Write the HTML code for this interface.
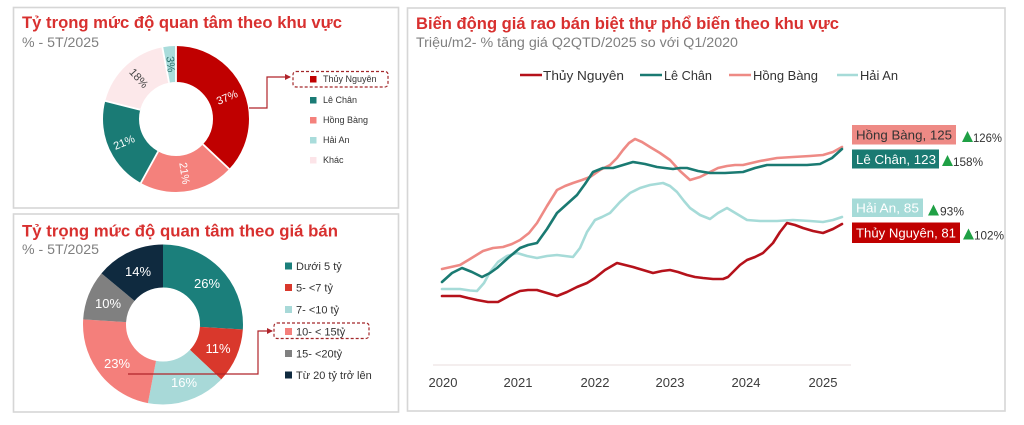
<!DOCTYPE html>
<html><head><meta charset="utf-8">
<style>
html,body{margin:0;padding:0;background:#fff;width:1024px;height:425px;overflow:hidden}
svg{display:block}
text{font-family:"Liberation Sans","Noto Sans CJK SC",sans-serif}
</style></head>
<body>
<svg width="1024" height="425" viewBox="0 0 1024 425" xmlns="http://www.w3.org/2000/svg">
<defs>
<marker id="ah" markerWidth="6" markerHeight="6" refX="5" refY="3" orient="auto" markerUnits="userSpaceOnUse">
<path d="M0,0 L6,3 L0,6 z" fill="#b0242a"/>
</marker>
</defs>
<rect x="0" y="0" width="1024" height="425" fill="#fff"/>
<!-- panels -->
<rect x="13.5" y="7.5" width="385" height="200.5" fill="#fff" stroke="#d6d6d6" stroke-width="1.6"/>
<rect x="13.5" y="214" width="385" height="198" fill="#fff" stroke="#d6d6d6" stroke-width="1.6"/>
<rect x="407.5" y="8" width="597.5" height="403" fill="#fff" stroke="#d6d6d6" stroke-width="1.6"/>

<!-- ===== Top-left ===== -->
<text x="22" y="28" font-size="17" font-weight="bold" fill="#d8302f" textLength="320" lengthAdjust="spacingAndGlyphs">Tỷ trọng mức độ quan tâm theo khu vực</text>
<text x="22" y="47" font-size="13.5" fill="#7f7f7f" textLength="77" lengthAdjust="spacingAndGlyphs">% - 5T/2025</text>

<g transform="rotate(-90 176 119)" fill="none" stroke-width="36">
<circle cx="176" cy="119" r="55" stroke="#c00000" stroke-dasharray="127.86 345.58" stroke-dashoffset="0"/>
<circle cx="176" cy="119" r="55" stroke="#f4817c" stroke-dasharray="72.57 345.58" stroke-dashoffset="-127.86"/>
<circle cx="176" cy="119" r="55" stroke="#1a7b75" stroke-dasharray="72.57 345.58" stroke-dashoffset="-200.43"/>
<circle cx="176" cy="119" r="55" stroke="#fce8ea" stroke-dasharray="62.20 345.58" stroke-dashoffset="-273.0"/>
<circle cx="176" cy="119" r="55" stroke="#a9dcdb" stroke-dasharray="10.38 345.58" stroke-dashoffset="-335.2"/>
</g>
<g stroke="#fff" stroke-width="1.8">
<line x1="176" y1="82" x2="176" y2="45"/>
<line x1="202.97" y1="144.33" x2="229.9" y2="169.6"/>
<line x1="158.17" y1="151.42" x2="140.5" y2="183.6"/>
<line x1="140.16" y1="109.8" x2="104.6" y2="100.7"/>
<line x1="169.07" y1="82.65" x2="162.2" y2="46.6"/>
</g>
<g font-size="11" text-anchor="middle">
<text x="227" y="101" fill="#fff" transform="rotate(-23 227 97)">37%</text>
<text x="184.6" y="177" fill="#fff" transform="rotate(81 184.6 173.3)">21%</text>
<text x="124" y="146" fill="#fff" transform="rotate(-23 124 142)">21%</text>
<text x="139" y="82" fill="#444" transform="rotate(48 139 78)">18%</text>
<text x="170.8" y="68" fill="#2a6e6a" transform="rotate(85 170.8 64.2)">3%</text>
</g>
<!-- top legend -->
<polyline points="249,108 267,108 267,77 290,77" fill="none" stroke="#b0242a" stroke-width="1.2" marker-end="url(#ah)"/>
<rect x="293" y="71.5" width="95" height="15.5" rx="3" fill="none" stroke="#a3282b" stroke-width="1.2" stroke-dasharray="3 2"/>
<g font-size="9" fill="#333">
<rect x="310" y="76" width="6.5" height="6.5" fill="#c00000"/><text x="323" y="82">Thủy Nguyên</text>
<rect x="310" y="97" width="6.5" height="6.5" fill="#1a7b75"/><text x="323" y="103">Lê Chân</text>
<rect x="310" y="117" width="6.5" height="6.5" fill="#f4817c"/><text x="323" y="123">Hồng Bàng</text>
<rect x="310" y="137" width="6.5" height="6.5" fill="#a9dcdb"/><text x="323" y="143">Hải An</text>
<rect x="310" y="157" width="6.5" height="6.5" fill="#fce4e8"/><text x="323" y="163">Khác</text>
</g>

<!-- ===== Bottom-left ===== -->
<text x="22" y="236.5" font-size="17" font-weight="bold" fill="#d8302f" textLength="316" lengthAdjust="spacingAndGlyphs">Tỷ trọng mức độ quan tâm theo giá bán</text>
<text x="22" y="254" font-size="13.5" fill="#7f7f7f" textLength="77" lengthAdjust="spacingAndGlyphs">% - 5T/2025</text>

<g transform="rotate(-90 163 324.5)" fill="none" stroke-width="43">
<circle cx="163" cy="324.5" r="58.5" stroke="#1b7f7b" stroke-dasharray="95.57 367.57" stroke-dashoffset="0"/>
<circle cx="163" cy="324.5" r="58.5" stroke="#d9382c" stroke-dasharray="40.43 367.57" stroke-dashoffset="-95.57"/>
<circle cx="163" cy="324.5" r="58.5" stroke="#a8d9d8" stroke-dasharray="58.81 367.57" stroke-dashoffset="-136.0"/>
<circle cx="163" cy="324.5" r="58.5" stroke="#f47f7b" stroke-dasharray="84.54 367.57" stroke-dashoffset="-194.81"/>
<circle cx="163" cy="324.5" r="58.5" stroke="#808080" stroke-dasharray="36.76 367.57" stroke-dashoffset="-279.35"/>
<circle cx="163" cy="324.5" r="58.5" stroke="#0f2a3f" stroke-dasharray="51.46 367.57" stroke-dashoffset="-316.11"/>
</g>
<g font-size="13" fill="#fff" text-anchor="middle">
<text x="207" y="288">26%</text>
<text x="218" y="353">11%</text>
<text x="184" y="387">16%</text>
<text x="117" y="368">23%</text>
<text x="108" y="308">10%</text>
<text x="138" y="276">14%</text>
</g>
<polyline points="128,374 258,374 258,331 272,331" fill="none" stroke="#b0242a" stroke-width="1.2" marker-end="url(#ah)"/>
<rect x="274" y="323" width="95" height="15.5" rx="3" fill="none" stroke="#a3282b" stroke-width="1.2" stroke-dasharray="3 2"/>
<g font-size="11" fill="#333">
<rect x="285" y="262.5" width="7" height="7" fill="#1b7f7b"/><text x="296" y="270">Dưới 5 tỷ</text>
<rect x="285" y="284" width="7" height="7" fill="#d9382c"/><text x="296" y="291.5">5- &lt;7 tỷ</text>
<rect x="285" y="306" width="7" height="7" fill="#a8d9d8"/><text x="296" y="313.5">7- &lt;10 tỷ</text>
<rect x="285" y="328" width="7" height="7" fill="#f47f7b"/><text x="296" y="335.5">10- &lt; 15tỷ</text>
<rect x="285" y="350" width="7" height="7" fill="#808080"/><text x="296" y="357.5">15- &lt;20tỷ</text>
<rect x="285" y="371.5" width="7" height="7" fill="#0f2a3f"/><text x="296" y="379">Từ 20 tỷ trở lên</text>
</g>

<!-- ===== Right chart ===== -->
<text x="416" y="29" font-size="17" font-weight="bold" fill="#d8302f" textLength="423" lengthAdjust="spacingAndGlyphs">Biến động giá rao bán biệt thự phổ biến theo khu vực</text>
<text x="416" y="47" font-size="13.5" fill="#7f7f7f" textLength="322" lengthAdjust="spacingAndGlyphs">Triệu/m2- % tăng giá Q2QTD/2025 so với Q1/2020</text>

<g font-size="13" fill="#333">
<line x1="520" y1="75" x2="542" y2="75" stroke="#b5121b" stroke-width="2.5"/>
<text x="543" y="80" textLength="81" lengthAdjust="spacingAndGlyphs">Thủy Nguyên</text>
<line x1="640" y1="75" x2="662" y2="75" stroke="#1a7a72" stroke-width="2.5"/>
<text x="664" y="80" textLength="48" lengthAdjust="spacingAndGlyphs">Lê Chân</text>
<line x1="729" y1="75" x2="751" y2="75" stroke="#ee8a85" stroke-width="2.5"/>
<text x="753" y="80" textLength="65" lengthAdjust="spacingAndGlyphs">Hồng Bàng</text>
<line x1="837" y1="75" x2="858" y2="75" stroke="#a6dbd8" stroke-width="2.5"/>
<text x="860" y="80" textLength="38" lengthAdjust="spacingAndGlyphs">Hải An</text>
</g>

<line x1="433" y1="365" x2="851" y2="365" stroke="#eadede" stroke-width="1"/>
<g font-size="13" fill="#3c3c3c" text-anchor="middle">
<text x="443" y="387">2020</text>
<text x="518" y="387">2021</text>
<text x="595" y="387">2022</text>
<text x="670" y="387">2023</text>
<text x="746" y="387">2024</text>
<text x="823" y="387">2025</text>
</g>

<g fill="none" stroke-width="2.6" stroke-linejoin="round" stroke-linecap="round">
<polyline stroke="#a6dbd8" points="442,289 460,289 470,290.5 477,291 484,283 490,272 498,262 507,256 517,253 527,256 537,258 547,256 557,255 565,256 573,257 580,248 587,232 595,220 602,217 610,213 620,202 630,193 640,188 650,185 663,183 670,186 677,192 684,201 690,208 700,215 710,219 718,213 727,208 737,214 747,220 760,221 777,221 793,220 810,221 823,222 833,220 842,217"/>
<polyline stroke="#ee8a85" points="442,269 460,265 470,259 483,251 493,248 503,247 512,244 520,240 529,233 537,223 547,206 557,190 565,186 573,183 582,180 590,177 600,170 610,165 617,158 623,150 629,143 635,139 642,142 650,147 660,153 670,160 680,171 690,180 700,177 710,172 718,168 727,166 735,165 743,165 760,161 777,158 793,157 810,156 823,155 833,152 842,147"/>
<polyline stroke="#1a7a72" points="442,282 452,273 462,268 472,272 482,277 490,273 497,268 508,258 520,248 528,245 537,243 547,229 557,213 567,204 577,195 585,184 593,172 603,168 613,168 623,165 633,162 645,164 657,167 665,168 673,169 680,168 687,168 698,171 710,173 725,173 743,172 755,168 767,165 780,165 793,165 807,165 820,164 832,158 842,149"/>
<polyline stroke="#b5121b" points="442,296 460,296 468,298 477,300 488,302 498,302 509,296 520,291 528,290 537,290 547,293 557,296 567,292 577,287 587,283 595,278 605,270 617,263 625,265 633,267 643,270 653,273 662,271 670,270 678,272 687,275 695,277 703,278 713,279 723,279 728,277 733,272 740,265 747,260 755,257 763,253 768,248 773,243 780,232 787,223 795,225 803,228 813,231 823,233 833,229 842,224"/>
</g>

<!-- value labels -->
<rect x="852" y="125" width="104" height="19.5" fill="#ee8a85"/>
<text x="856" y="139.5" font-size="13" fill="#333" textLength="96" lengthAdjust="spacingAndGlyphs">Hồng Bàng, 125</text>
<polygon points="962,142 967.5,131 973,142" fill="#1fa045"/>
<text x="973" y="142" font-size="12" fill="#333" textLength="29" lengthAdjust="spacingAndGlyphs">126%</text>

<rect x="852" y="149.5" width="87" height="19" fill="#1a7a72"/>
<text x="856" y="164" font-size="13" fill="#fff" textLength="80" lengthAdjust="spacingAndGlyphs">Lê Chân, 123</text>
<polygon points="942,166 947.5,155 953,166" fill="#1fa045"/>
<text x="953" y="166" font-size="12" fill="#333" textLength="30" lengthAdjust="spacingAndGlyphs">158%</text>

<rect x="852" y="198.5" width="71" height="18.5" fill="#a6dbd8"/>
<text x="856" y="212.5" font-size="13" fill="#fff" textLength="63" lengthAdjust="spacingAndGlyphs">Hải An, 85</text>
<polygon points="928,215.5 933.5,204.5 939,215.5" fill="#1fa045"/>
<text x="940" y="215.5" font-size="12" fill="#333" textLength="24" lengthAdjust="spacingAndGlyphs">93%</text>

<rect x="852" y="222.5" width="108" height="20.5" fill="#c00000"/>
<text x="856" y="237.5" font-size="13" fill="#fff" textLength="100" lengthAdjust="spacingAndGlyphs">Thủy Nguyên, 81</text>
<polygon points="963,239.5 968.5,228.5 974,239.5" fill="#1fa045"/>
<text x="974" y="239.5" font-size="12" fill="#333" textLength="30" lengthAdjust="spacingAndGlyphs">102%</text>
</svg>
</body></html>
